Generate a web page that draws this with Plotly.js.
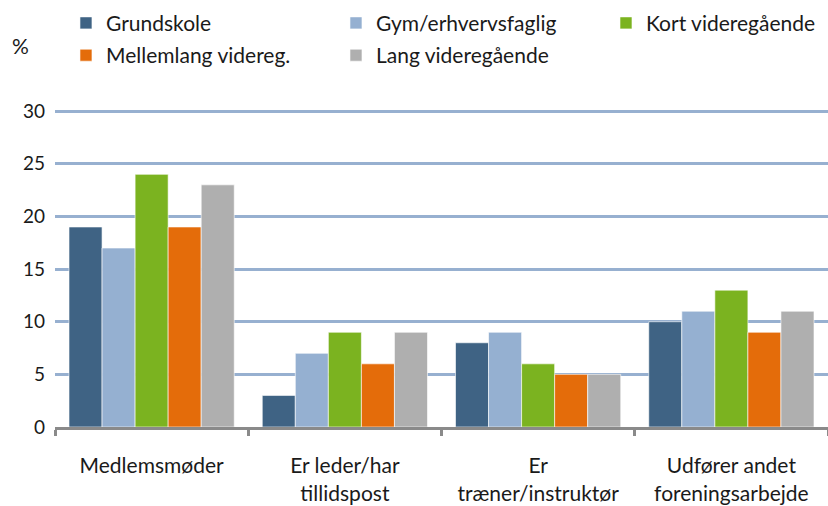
<!DOCTYPE html>
<html>
<head>
<meta charset="utf-8">
<script src="https://cdn.plot.ly/plotly-3.0.1.min.js"></script>
<style>html,body{margin:0;padding:0;background:#fff;}#chart{width:828px;height:506px;}</style>
</head>
<body>
<div id="chart"></div>
<script>
const categories = ["Medlemsmøder", "Er leder/har<br>tillidspost", "Er<br>træner/instruktør", "Udfører andet<br>foreningsarbejde"];
const seriesNames = ["Grundskole", "Gym/erhvervsfaglig", "Kort videregående", "Mellemlang videreg.", "Lang videregående"];
const grundskole = [19, 3, 8, 10];
const gymErhverv = [17, 7, 9, 11];
const kortVidereg = [24, 9, 6, 13];
const mellemlangVidereg = [19, 6, 5, 9];
const langVidereg = [23, 9, 5, 11];
const yTicks = [0, 5, 10, 15, 20, 25, 30];

const seriesValues = [grundskole, gymErhverv, kortVidereg, mellemlangVidereg, langVidereg];
const colors = ["#3f6384", "#95b0d1", "#7bb320", "#e46c0a", "#afafaf"];
const legendOf = ["legend", "legend2", "legend3", "legend", "legend2"];
const fontFam = "Lato, 'Open Sans', sans-serif";

const traces = seriesNames.map((name, i) => ({
  type: "bar",
  name: name,
  x: categories,
  y: seriesValues[i],
  legend: legendOf[i],
  legendgroup: "g" + i,
  marker: {color: colors[i], line: {color: "rgba(255,255,255,0.6)", width: 1}},
  hoverinfo: "none"
}));

function legendAt(x) {
  return {
    orientation: "v",
    x: x, xanchor: "left",
    y: 1.33, yanchor: "top",
    traceorder: "grouped",
    tracegroupgap: 2,
    bgcolor: "rgba(0,0,0,0)",
    font: {family: fontFam, size: 21, color: "#1a1a1a"},
    itemwidth: 30
  };
}

const layout = {
  width: 828, height: 506,
  margin: {l: 55, r: 0, t: 108, b: 79},
  paper_bgcolor: "#fff", plot_bgcolor: "#fff",
  font: {family: fontFam, color: "#1a1a1a", size: 21},
  barmode: "group",
  bargap: 0.145,
  bargroupgap: 0,
  showlegend: true,
  legend: legendAt(0.0142),
  legend2: legendAt(0.3635),
  legend3: legendAt(0.7128),
  xaxis: {
    type: "category",
    showgrid: false,
    showline: true, linecolor: "#8a8a8a", linewidth: 3,
    ticks: "outside", tickson: "boundaries", ticklen: 6, tickwidth: 3, tickcolor: "#8a8a8a",
    ticklabelstandoff: 18,
    tickfont: {family: fontFam, size: 21, color: "#1a1a1a"},
    fixedrange: true
  },
  yaxis: {
    range: [0, 30.3],
    tickvals: yTicks,
    ticktext: yTicks.map(String),
    showgrid: true, gridcolor: "#97b0d0", gridwidth: 3,
    zeroline: false, showline: false,
    ticks: "", ticklabelstandoff: 9,
    tickfont: {family: fontFam, size: 19, color: "#1a1a1a"},
    fixedrange: true
  },
  annotations: [{
    text: "%", xref: "paper", yref: "paper", x: -0.045, y: 1.195,
    xanchor: "center", yanchor: "middle", showarrow: false,
    font: {family: fontFam, size: 21, color: "#1a1a1a"}
  }]
};

Plotly.newPlot("chart", traces, layout, {staticPlot: true, displayModeBar: false});
</script>
</body>
</html>
